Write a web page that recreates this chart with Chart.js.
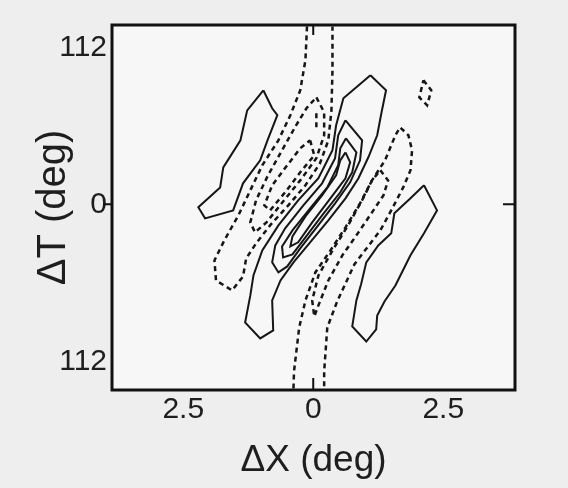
<!DOCTYPE html>
<html>
<head>
<meta charset="utf-8">
<script src="https://cdn.jsdelivr.net/npm/chart.js@4.4.1/dist/chart.umd.min.js"></script>
<style>
  html, body { margin: 0; padding: 0; background: #eeeeee; }
  #wrap { width: 568px; height: 488px; }
</style>
</head>
<body>
<div id="wrap"><canvas id="myChart" width="568" height="488"></canvas></div>
<script>
// axis ticks as printed on the figure (minus signs are not printed)
const xTicks = [-2.5, 0, 2.5];
const xTickLabels = ['2.5', '0', '2.5'];
const yTicks = [-112, 0, 112];
const yTickLabels = ['112', '0', '112'];

// contour lines, [ΔX (deg), ΔT (deg)]
// solid = positive levels
const lobeLeft = [[-0.96, 81.4], [-0.79, 68.6], [-0.69, 63.6], [-0.88, 45.7], [-1.02, 31.4], [-1.35, 15], [-1.54, -4.3], [-2.08, -10], [-2.21, -2.1], [-1.79, 12.1], [-1.73, 26.4], [-1.40, 45.7], [-1.27, 67.1]];
const band1 = [[1.10, 92.1], [1.40, 81.4], [1.31, 65.0], [1.23, 49.3], [1.06, 33.6], [0.87, 18.6], [0.62, 4.3], [0.29, -11.4], [-0.06, -27.1], [-0.38, -41.4], [-0.63, -54.3], [-0.79, -68.6], [-0.77, -90.0], [-1.02, -95.7], [-1.31, -84.3], [-1.21, -65.0], [-1.15, -50.7], [-0.98, -32.9], [-0.67, -15.0], [-0.29, 2.9], [0.10, 18.6], [0.37, 38.6], [0.44, 56.4], [0.58, 75.7]];
const band2 = [[0.62, 60.0], [0.94, 45.7], [0.90, 31.4], [0.71, 15.7], [0.42, 0.7], [0.08, -15.7], [-0.25, -31.4], [-0.50, -44.3], [-0.67, -48.6], [-0.79, -41.4], [-0.73, -29.3], [-0.54, -17.1], [-0.19, -0.7], [0.17, 15.0], [0.42, 32.9], [0.48, 49.3]];
const band3 = [[0.63, 47.1], [0.83, 37.1], [0.75, 22.9], [0.52, 8.6], [0.17, -7.9], [-0.15, -23.6], [-0.40, -35.7], [-0.58, -37.9], [-0.60, -30.0], [-0.40, -18.6], [-0.06, -2.9], [0.27, 12.1], [0.48, 27.9], [0.52, 40.0]];
const band4 = [[0.62, 37.1], [0.71, 30.0], [0.62, 18.6], [0.33, 4.3], [-0.02, -12.9], [-0.29, -27.1], [-0.44, -30.0], [-0.40, -22.9], [-0.15, -8.6], [0.17, 6.4], [0.44, 20.7], [0.52, 31.4]];
const lobeRight = [[2.13, 13.6], [2.38, -4.3], [2.13, -20.7], [1.87, -36.4], [1.58, -57.9], [1.37, -69.3], [1.23, -79.3], [1.21, -89.3], [1.02, -97.9], [0.75, -87.1], [0.83, -68.6], [0.92, -57.1], [1.02, -41.4], [1.25, -29.3], [1.50, -20.7], [1.56, -6.4], [1.87, 4.3]];

// dashed = negative levels
const dipUpper1 = [[-0.12, 127], [-0.15, 102.9], [-0.25, 81.4], [-0.44, 63.6], [-0.67, 45.7], [-0.98, 27.9], [-1.21, 10.0], [-1.44, -7.9], [-1.71, -25.7], [-1.90, -40.0], [-1.87, -54.3], [-1.56, -61.4], [-1.35, -51.4], [-1.29, -38.6], [-1.10, -27.9], [-0.83, -15.0], [-0.48, -0.7], [-0.15, 13.6], [0.13, 29.3], [0.29, 45.7], [0.35, 67.1], [0.37, 95.7], [0.37, 127]];
const dipUpper2 = [[0.06, 76.4], [0.21, 65.7], [0.21, 49.3], [0.06, 32.9], [-0.25, 17.1], [-0.56, 2.9], [-0.90, -12.9], [-1.12, -20.0], [-1.21, -12.9], [-1.10, 2.9], [-0.87, 20.7], [-0.60, 38.6], [-0.33, 56.4], [-0.13, 68.6]];
const dipUpper3 = [[-0.06, 45.7], [0.02, 35.0], [-0.25, 22.9], [-0.54, 8.6], [-0.83, -4.3], [-0.94, -0.7], [-0.79, 13.6], [-0.50, 27.9], [-0.25, 40.0]];
const dipStub = [[0.06, 65.0], [0.06, 54.3]];
const dipLower1 = [[-0.38, -131.4], [-0.37, -119.3], [-0.27, -87.9], [-0.15, -68.6], [0.04, -48.6], [0.33, -32.9], [0.62, -16.4], [0.90, 0.7], [1.13, 17.1], [1.38, 31.4], [1.58, 49.3], [1.67, 55.0], [1.83, 49.3], [1.90, 38.6], [1.87, 24.3], [1.73, 12.1], [1.52, -2.9], [1.29, -18.6], [0.98, -33.6], [0.79, -42.9], [0.46, -69.3], [0.27, -87.9], [0.21, -119.3], [0.21, -131.4]];
const dipLower2 = [[1.29, 24.3], [1.44, 17.1], [1.35, 6.4], [1.13, -5.7], [0.87, -20.0], [0.56, -36.4], [0.29, -54.3], [0.10, -72.1], [0.02, -80.0], [-0.02, -68.6], [0.10, -50.7], [0.37, -32.9], [0.67, -15.0], [0.94, 2.9], [1.13, 17.1]];
const dipSmall = [[2.12, 88.6], [2.27, 81.4], [2.19, 70.7], [2.04, 76.4]];

const solidClosed = [lobeLeft, band1, band2, band3, band4, lobeRight];
const dashedClosed = [dipUpper2, dipUpper3, dipLower2, dipSmall];
const dashedOpen = [dipUpper1, dipStub, dipLower1];

const ink = '#161616';

function toPoints(list, closed) {
    const pts = list.map(p => ({ x: p[0], y: p[1] }));
    if (closed) pts.push(pts[0]);
    return pts;
}

const datasets = [];
solidClosed.forEach(c => datasets.push({
    data: toPoints(c, true), borderColor: ink, borderWidth: 2
}));
dashedClosed.forEach(c => datasets.push({
    data: toPoints(c, true), borderColor: ink, borderWidth: 2.5, borderDash: [5, 4]
}));
dashedOpen.forEach(c => datasets.push({
    data: toPoints(c, false), borderColor: ink, borderWidth: 2.5, borderDash: [5, 4]
}));
datasets.forEach(d => {
    d.showLine = true;
    d.pointRadius = 0;
    d.tension = 0;
    d.fill = false;
});

// page tone, box frame and the single tick at 0 on each side
const framePlugin = {
    id: 'frame',
    beforeDraw(chart) {
        const ctx = chart.ctx, a = chart.chartArea;
        ctx.save();
        ctx.fillStyle = '#eeeeee';
        ctx.fillRect(0, 0, chart.width, chart.height);
        ctx.fillStyle = '#f7f7f7';
        ctx.fillRect(a.left, a.top, a.right - a.left, a.bottom - a.top);
        ctx.restore();
    },
    afterDatasetsDraw(chart) {
        const ctx = chart.ctx, a = chart.chartArea;
        const x0 = chart.scales.x.getPixelForValue(0);
        const y0 = chart.scales.y.getPixelForValue(0);
        ctx.save();
        ctx.strokeStyle = '#111';
        ctx.lineWidth = 3;
        ctx.strokeRect(a.left, a.top, a.right - a.left, a.bottom - a.top);
        ctx.lineWidth = 2;
        ctx.beginPath();
        ctx.moveTo(a.left - 9, y0); ctx.lineTo(a.left, y0);
        ctx.moveTo(a.right - 12, y0); ctx.lineTo(a.right, y0);
        ctx.moveTo(x0, a.top); ctx.lineTo(x0, a.top + 10);
        ctx.moveTo(x0, a.bottom); ctx.lineTo(x0, a.bottom - 12);
        ctx.stroke();
        ctx.restore();
    }
};

const fontFamily = '"Liberation Sans", Arial, sans-serif';

const config = {
    type: 'scatter',
    data: { datasets: datasets },
    options: {
        responsive: false,
        animation: false,
        layout: { padding: { top: 25, right: 53, left: 0, bottom: 0 } },
        scales: {
            x: {
                type: 'linear',
                min: -3.87,
                max: 3.88,
                afterBuildTicks: s => { s.ticks = xTicks.map(v => ({ value: v })); },
                afterFit: s => { s.height = 98; },
                grid: { display: false, drawTicks: false },
                border: { display: false },
                ticks: {
                    padding: 2,
                    color: '#1e1e1e',
                    font: { family: fontFamily, size: 30 },
                    callback: (v, i) => xTickLabels[i]
                },
                title: {
                    display: true,
                    text: 'ΔX (deg)',
                    color: '#1e1e1e',
                    font: { family: fontFamily, size: 37 },
                    padding: { top: 0, bottom: 5 }
                }
            },
            y: {
                type: 'linear',
                min: -132.5,
                max: 128,
                afterBuildTicks: s => { s.ticks = yTicks.map(v => ({ value: v })); },
                afterFit: s => { s.width = 112; },
                grid: { display: false, drawTicks: false },
                border: { display: false },
                ticks: {
                    padding: 5,
                    color: '#1e1e1e',
                    font: { family: fontFamily, size: 30 },
                    callback: (v, i) => yTickLabels[i]
                },
                title: {
                    display: true,
                    text: 'ΔT (deg)',
                    color: '#1e1e1e',
                    font: { family: fontFamily, size: 40 },
                    padding: { top: 30, bottom: 0 }
                }
            }
        },
        plugins: {
            legend: { display: false },
            tooltip: { enabled: false }
        }
    },
    plugins: [framePlugin]
};

const myChart = new Chart(document.getElementById('myChart'), config);
</script>
</body>
</html>
